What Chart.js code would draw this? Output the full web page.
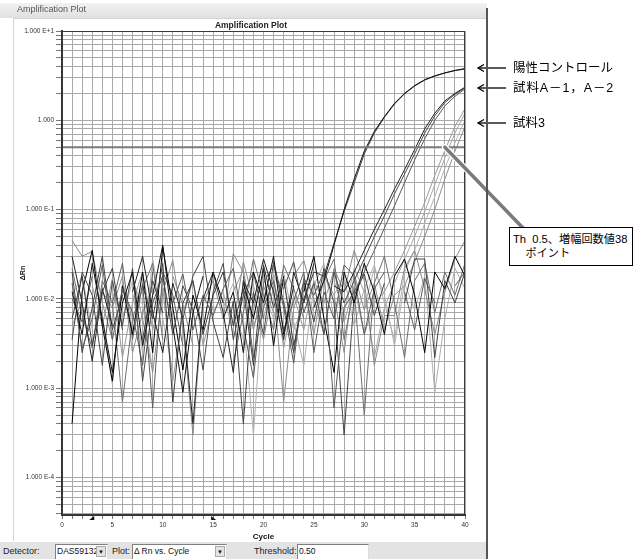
<!DOCTYPE html>
<html><head><meta charset="utf-8">
<script src="https://cdn.jsdelivr.net/npm/chart.js@4.4.1/dist/chart.umd.min.js"></script>
<style>
html,body{margin:0;padding:0;background:#fff;}
body{width:636px;height:559px;position:relative;overflow:hidden;font-family:"Liberation Sans",Arial,sans-serif;}
.abs{position:absolute;white-space:nowrap;}
#topband{left:0;top:3px;width:487px;height:15px;background:linear-gradient(#f2f2f2,#e0e0e0);z-index:0;}
#tabtitle{left:17px;top:4px;font-size:9px;color:#555;z-index:3;}
#panel{left:13px;top:18px;width:473px;height:522px;border-left:1px solid #d4d4d4;border-top:1px solid #d4d4d4;z-index:0;}
#winedge{left:486px;top:8px;width:2px;height:551px;background:#555;z-index:3;}
#plottitle{left:190px;width:122px;text-align:center;top:20px;font-size:8.5px;font-weight:bold;color:#222;z-index:3;}
#bottombar{left:0;top:542px;width:486px;height:17px;background:#e3e3e3;z-index:2;}
#bottombar .lbl{position:absolute;top:4px;font-size:9px;color:#222;}
#bottombar .box{position:absolute;top:2px;height:15px;background:#fff;border:1px solid #808080;border-right-color:#ddd;border-bottom:none;box-sizing:border-box;font-size:8.5px;line-height:13px;padding-left:1px;color:#111;}
#bottombar .btn{position:absolute;right:1px;top:1px;width:10px;height:11px;background:#e4e4e4;border:1px solid #aaa;box-sizing:border-box;font-size:6px;line-height:10px;text-align:center;color:#111;}
canvas{position:absolute;left:0;top:0;z-index:1;}
.rlab{font-family:"Liberation Sans","Noto Sans CJK JP",sans-serif;font-size:12.5px;color:#000;left:513px;z-index:3;line-height:14px;}
#callout{left:509px;top:227px;width:124px;height:39px;border:1px solid #000;background:#fff;box-sizing:border-box;z-index:3;font-family:"Liberation Sans","Noto Sans CJK JP",sans-serif;font-size:11.2px;line-height:14px;color:#000;padding:4px 0 0 3px;white-space:pre;}
</style>
</head>
<body>
<div id="topband" class="abs"></div>
<div id="panel" class="abs"></div>
<div id="tabtitle" class="abs">Amplification Plot</div>
<div id="plottitle" class="abs">Amplification Plot</div>
<div id="winedge" class="abs"></div>
<div id="bottombar" class="abs">
  <span class="lbl" style="left:3px">Detector:</span>
  <div class="box" style="left:55px;width:53px">DAS59132<div class="btn">▼</div></div>
  <span class="lbl" style="left:112px">Plot:</span>
  <div class="box" style="left:132px;width:95px">Δ Rn vs. Cycle<div class="btn">▼</div></div>
  <span class="lbl" style="left:254px">Threshold:</span>
  <div class="box" style="left:297px;width:72px">0.50</div>
</div>
<div class="abs rlab" style="top:61px">陽性コントロール</div>
<div class="abs rlab" style="top:81px;letter-spacing:0.9px">試料A－1，A－2</div>
<div class="abs rlab" style="top:116px">試料3</div>
<div id="callout" class="abs">Th  0.5、増幅回数値38
    ポイント</div>
<canvas id="c" width="636" height="559"></canvas>
<script>
// ---------- data ----------
const cycles = [1,2,3,4,5,6,7,8,9,10,11,12,13,14,15,16,17,18,19,20,21,22,23,24,25,26,27,28,29,30,31,32,33,34,35,36,37,38,39,40];
const thresholdValue = 0.5;
const calloutCycle = 38;
const baselineMarkers = [3, 15];
const xTickLabels = [0,5,10,15,20,25,30,35,40];
const yTickValues = [10, 1, 0.1, 0.01, 0.001, 0.0001];
const yTickLabels = ['1.000 E+1','1.000','1.000 E-1','1.000 E-2','1.000 E-3','1.000 E-4'];

const posCtrl1 = [0.012,0.004,0.025,0.006,0.0015,0.009,0.02,0.003,0.011,0.04, 0.005,0.0009,0.007,0.018,null,0.006,0.012,0.0025,0.02,0.009, 0.03,0.004,0.014,null,0.008,0.016,0.04,0.1,0.22,0.45, 0.75,1.1,1.55,2.0,2.45,2.85,3.15,3.4,3.62,3.8];
const posCtrl2 = [0.006,0.018,0.003,0.012,0.022,0.0045,null,0.014,0.006,0.025, 0.0007,0.009,0.016,0.004,0.011,0.02,0.005,0.013,0.0018,0.024, 0.008,0.017,0.003,0.01,0.02,0.018,0.042,0.095,0.2,0.42, 0.72,1.08,1.52,1.98,2.42,2.82,3.12,3.38,3.6,3.75];
const sampleA1 = [0.03,0.009,0.002,0.013,0.005,null,0.012,0.03,0.007,0.0025, 0.015,0.006,0.0004,0.01,0.02,0.007,0.0015,0.016,0.009,0.028, 0.012,0.0035,0.02,0.009,0.025,null,0.014,0.012,0.02,0.035, 0.06,0.1,0.17,0.28,0.47,0.8,1.2,1.65,2.0,2.35];
const sampleA2 = [0.0035,0.02,0.011,0.0018,0.016,0.005,0.022,0.0012,0.009,0.018, 0.004,0.014,0.0075,0.0016,0.012,0.025,0.0035,0.011,0.02,0.006, null,0.013,0.026,0.007,0.015,0.004,0.02,0.009,0.016,0.028, 0.05,0.085,0.15,0.25,0.42,0.72,1.12,1.58,1.95,2.3];
const sampleA3 = [0.015,0.0028,0.006,0.024,0.0035,0.013,0.007,0.0018,0.02,null, 0.009,0.019,0.0045,0.011,0.0065,0.013,0.022,0.005,0.0013,0.015, 0.024,0.008,0.0019,0.017,0.011,0.02,0.0006,0.008,0.012,0.02, 0.035,0.062,0.11,0.2,0.36,0.62,1.0,1.45,1.85,2.25];
const sample3a = [0.008,null,0.014,0.005,0.017,0.0022,0.009,0.02,0.0045,0.013, 0.0012,0.007,0.016,0.003,0.0085,null,0.012,0.021,0.005,0.0095, 0.018,0.0028,0.011,0.0045,0.016,0.009,0.021,0.0055,0.014,0.004, 0.009,0.012,0.02,0.035,0.065,0.12,0.24,0.46,0.85,1.35];
const sample3b = [null,null,null,0.0065,0.0011,0.015,0.006,null,0.011,0.017, 0.005,null,null,null,0.007,0.012,0.004,null,0.014,0.006, 0.019,0.01,0.0025,0.013,0.007,null,0.016,0.007,0.022,0.012, 0.0022,0.008,0.015,0.028,0.05,0.095,0.19,0.38,0.72,1.2];
const sample3c = [0.011,0.018,0.0045,null,0.012,0.006,0.016,0.0085,0.0016,null, null,null,null,null,null,0.008,0.015,0.006,0.0003,0.012, 0.006,0.016,0.0045,0.009,0.02,null,0.011,0.018,0.005,0.013, 0.024,0.009,0.0035,0.02,0.035,0.07,0.14,0.29,0.56,1.0];
const sample3d = [0.005,0.0095,null,0.012,0.008,0.018,0.0025,0.007,0.013,null, 0.018,0.0085,0.003,null,null,null,0.005,0.026,0.0095,0.0035, 0.014,0.0007,0.008,0.015,0.004,0.018,0.011,0.0025,0.019,0.0075, 0.015,0.0045,0.011,0.014,0.026,0.05,0.1,0.22,0.45,0.85];
const negative1 = [0.0004,0.012,0.035,0.005,0.0012,0.014,0.004,0.02,0.0025,0.038, 0.008,0.0016,0.011,0.0045,0.02,0.009,null,0.015,0.006,0.022, 0.003,0.018,null,0.012,0.03,0.006,0.0015,0.02,0.009,0.025, 0.012,0.004,0.018,0.028,0.011,0.0025,0.02,0.013,0.03,0.018];
const negative2 = [0.022,0.0065,0.0028,0.016,0.009,0.0007,0.006,0.013,0.025,0.0035, null,0.02,null,null,null,null,0.0019,0.007,0.028,0.011, 0.0045,0.024,0.013,0.006,null,0.016,0.028,0.0035,0.013,0.0005, 0.015,0.03,0.009,0.0022,0.016,0.025,0.007,0.02,0.011,0.025];
const negative3 = [0.045,0.03,0.034,0.009,0.0035,null,0.018,0.006,0.0015,0.012, 0.027,0.005,0.0003,0.009,0.016,0.006,0.032,0.02,0.0045,0.014, 0.007,null,0.018,0.027,0.01,0.004,0.022,0.012,0.035,0.016, 0.0018,0.0065,0.0065,0.022,0.035,0.013,0.004,0.012,0.028,0.045];
const negative4 = [0.02,0.0025,0.008,0.03,0.0045,0.011,null,0.0035,0.016,0.007, null,0.006,0.018,0.03,0.0055,0.0022,0.0095,0.0004,0.012,0.004, 0.026,0.009,0.0025,0.016,0.0055,0.022,0.009,0.0003,0.011,0.019, 0.0065,0.015,null,0.009,0.028,0.028,0.0022,0.016,0.009,0.02];
const negative5 = [null,null,null,null,null,null,0.012,0.0025,0.028,0.006, 0.0015,null,null,null,null,null,0.008,0.0035,0.016,null, 0.01,0.02,0.0055,0.0018,0.014,0.025,0.006,0.016,null,0.008, 0.022,0.011,0.003,0.015,0.0075,0.018,0.0009,0.006,0.022,0.013];
const negative6 = [0.01,0.0055,0.018,null,0.009,0.025,0.0035,0.015,0.0006,0.02, 0.011,0.003,null,null,null,null,null,0.018,0.0022,0.008, 0.016,0.0045,0.0095,0.02,0.0025,0.012,0.006,0.024,0.018,0.004, 0.013,0.02,null,0.012,0.0045,0.017,0.009,null,0.014,0.02];

// ---------- styles ----------
const seriesList = [posCtrl1, posCtrl2, sampleA1, sampleA2, sampleA3, negative1, negative4, negative6, negative2, sample3d, negative3, sample3a, sample3b, negative5, sample3c];
const seriesColors = ['#111111','#3a3a3a','#222222','#4a4a4a','#5a5a5a','#000000','#444444','#5c5c5c','#6e6e6e','#8c8c8c','#8a8a8a','#9a9a9a','#a8a8a8','#b0b0b0','#b4b4b4'];
const yMin = 3.8e-5, yMax = 10;
const arrowRowsY = [68, 88, 123];

Chart.defaults.font.family = '"Liberation Sans", Arial, sans-serif';

const datasets = [{
  data: [{x: 0, y: thresholdValue}, {x: 40, y: thresholdValue}],
  borderColor: '#7a7a7a', borderWidth: 2, pointRadius: 0
}];
seriesList.forEach((s, i) => {
  datasets.push({
    data: cycles.map((c, j) => ({x: c, y: s[j]})),
    borderColor: seriesColors[i], borderWidth: 1, pointRadius: 0, spanGaps: false, tension: 0
  });
});

const overlay = {
  id: 'overlay',
  afterDraw(chart) {
    const {ctx, chartArea: a, scales: {x, y}} = chart;
    ctx.save();
    ctx.strokeStyle = '#3a3a3a'; ctx.lineWidth = 1;
    ctx.strokeRect(a.left + 0.5, a.top + 0.5, a.right - a.left - 1, a.bottom - a.top - 1);
    // baseline markers
    ctx.fillStyle = '#111';
    baselineMarkers.forEach((c, i) => {
      const px = x.getPixelForValue(c);
      ctx.beginPath();
      if (i === 0) { ctx.moveTo(px + 2, a.bottom + 1); ctx.lineTo(px + 2, a.bottom + 5); ctx.lineTo(px - 3, a.bottom + 5); }
      else { ctx.moveTo(px - 2, a.bottom + 1); ctx.lineTo(px - 2, a.bottom + 5); ctx.lineTo(px + 3, a.bottom + 5); }
      ctx.closePath(); ctx.fill();
    });
    // callout pointer
    const px = x.getPixelForValue(calloutCycle), py = y.getPixelForValue(thresholdValue);
    const ex = 523, ey = 228;
    ctx.lineCap = 'round';
    ctx.strokeStyle = '#ffffff'; ctx.lineWidth = 6;
    ctx.beginPath(); ctx.moveTo(px, py); ctx.lineTo(ex, ey); ctx.stroke();
    ctx.strokeStyle = '#7b7b7b'; ctx.lineWidth = 3.5;
    ctx.beginPath(); ctx.moveTo(px, py); ctx.lineTo(ex, ey); ctx.stroke();
    ctx.fillStyle = '#888';
    ctx.beginPath(); ctx.arc(ex, ey, 2, 0, Math.PI * 2); ctx.fill();
    // label arrows
    ctx.strokeStyle = '#000'; ctx.lineWidth = 1.3; ctx.lineCap = 'butt';
    arrowRowsY.forEach(yy => {
      ctx.beginPath(); ctx.moveTo(478, yy); ctx.lineTo(506, yy); ctx.stroke();
      ctx.beginPath(); ctx.moveTo(484, yy - 3.5); ctx.lineTo(478, yy); ctx.lineTo(484, yy + 3.5); ctx.stroke();
    });
    ctx.restore();
  }
};

new Chart(document.getElementById('c'), {
  type: 'line',
  data: {datasets},
  options: {
    responsive: false, animation: false, devicePixelRatio: 1,
    layout: {padding: {left: 0, top: 31, right: 171, bottom: 17}},
    plugins: {legend: {display: false}, tooltip: {enabled: false}, title: {display: false}},
    scales: {
      x: {
        type: 'linear', min: 0, max: 40,
        afterBuildTicks: (s) => { const t = []; for (let c = 0; c <= 40; c++) t.push({value: c}); s.ticks = t; },
        afterFit: (s) => { s.height = 27; },
        ticks: {autoSkip: false, maxRotation: 0, padding: 2, color: '#333', font: {size: 6.5},
          callback: (v) => xTickLabels.includes(v) ? String(v) : ''},
        grid: {color: '#a9a9a9', lineWidth: 1, tickLength: 4, tickColor: '#777'},
        border: {display: true, color: '#333', width: 2},
        title: {display: true, text: 'Cycle', color: '#111', font: {size: 8, weight: 'bold'}, padding: {top: 0, bottom: 0}}
      },
      y: {
        type: 'logarithmic', min: yMin, max: yMax,
        afterBuildTicks: (s) => {
          const t = [];
          for (let e = -5; e <= 1; e++) for (let k = 1; k <= 9; k++) {
            const v = k * Math.pow(10, e);
            if (v >= yMin * 0.999 && v <= yMax * 1.001) t.push({value: v});
          }
          s.ticks = t;
        },
        afterFit: (s) => { s.width = 62; },
        ticks: {autoSkip: false, padding: 2, color: '#333', font: {size: 6.5},
          callback: (v) => { const i = yTickValues.findIndex(t => Math.abs(Math.log10(v) - Math.log10(t)) < 1e-6); return i >= 0 ? yTickLabels[i] : ''; }},
        grid: {color: '#a9a9a9', lineWidth: 1, tickLength: 6, tickColor: '#777'},
        border: {display: true, color: '#333', width: 2},
        title: {display: true, text: 'ΔRn', color: '#111', font: {size: 7, weight: 'bold'}, padding: {top: 19, bottom: 0}}
      }
    }
  },
  plugins: [overlay]
});
</script>
</body></html>
